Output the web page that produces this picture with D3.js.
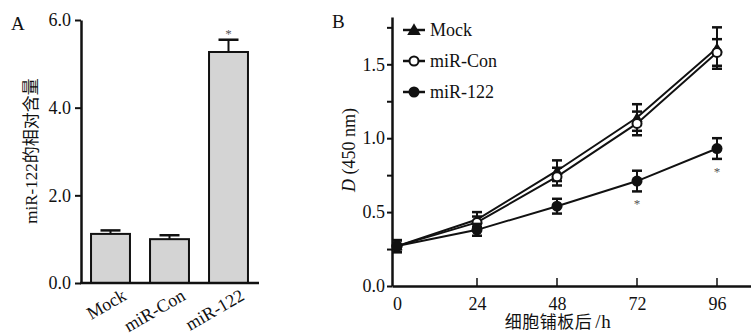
<!DOCTYPE html>
<html>
<head>
<meta charset="utf-8">
<script src="https://cdn.jsdelivr.net/npm/d3@7"></script>
<style>
  body { margin: 0; background: #fff; }
  svg text { font-family: "Liberation Serif", "Noto Sans CJK SC", serif; fill: #111; }
</style>
</head>
<body>
<div id="chart"></div>
<script>
// panel A data
const groupsA = ["Mock", "miR-Con", "miR-122"]
const meansA = [1.12, 1.0, 5.27]
const errsA = [0.08, 0.09, 0.28]
const ticksA = [0, 2, 4, 6]

// panel B data
const hours = [0, 24, 48, 72, 96]
const seriesNames = ["Mock", "miR-Con", "miR-122"]
const mockVals = [0.27, 0.45, 0.78, 1.14, 1.61]
const mockErr = [0.04, 0.05, 0.07, 0.09, 0.14]
const conVals = [0.27, 0.43, 0.74, 1.10, 1.58]
const conErr = [0.04, 0.04, 0.06, 0.08, 0.09]
const mirVals = [0.27, 0.38, 0.54, 0.71, 0.93]
const mirErr = [0.04, 0.04, 0.05, 0.07, 0.07]
const ticksB = [0, 0.5, 1.0, 1.5]

const W = 751, H = 335
const svg = d3.select("#chart").append("svg")
    .attr("width", W).attr("height", H)

// ---------- Panel A ----------
const xA = d3.scaleBand().domain(groupsA).range([81, 258])
    .paddingInner(0.34).paddingOuter(0.17)
const yA = d3.scaleLinear().domain([0, 6]).range([283, 20])

svg.append("text").attr("x", 11).attr("y", 30).attr("font-size", 19).text("A")

const gA = svg.append("g")

// bars
gA.selectAll(".bar").data(groupsA).enter().append("rect")
    .attr("class", "bar")
    .attr("x", d => xA(d))
    .attr("y", (d, i) => yA(meansA[i]))
    .attr("width", xA.bandwidth())
    .attr("height", (d, i) => yA(0) - yA(meansA[i]))
    .attr("fill", "#d4d4d4")
    .attr("stroke", "#111")
    .attr("stroke-width", 2)

// error bars (upper only)
groupsA.forEach((g, i) => {
    let cx = xA(g) + xA.bandwidth() / 2
    gA.append("line")
        .attr("x1", cx).attr("x2", cx)
        .attr("y1", yA(meansA[i])).attr("y2", yA(meansA[i] + errsA[i]))
        .attr("stroke", "#111").attr("stroke-width", 2)
    gA.append("line")
        .attr("x1", cx - 10).attr("x2", cx + 10)
        .attr("y1", yA(meansA[i] + errsA[i])).attr("y2", yA(meansA[i] + errsA[i]))
        .attr("stroke", "#111").attr("stroke-width", 2.5)
})

// star
gA.append("text")
    .attr("x", xA("miR-122") + xA.bandwidth() / 2)
    .attr("y", yA(meansA[2] + errsA[2]) - 2)
    .attr("text-anchor", "middle").attr("font-size", 13)
    .style("fill", "#555")
    .text("*")

// y axis
const yAxisA = d3.axisLeft(yA).tickValues(ticksA).tickFormat(d3.format(".1f"))
    .tickSize(6).tickSizeOuter(0)
const gyA = svg.append("g").attr("transform", "translate(81,0)").call(yAxisA)
gyA.select(".domain").attr("stroke-width", 2.5).attr("stroke", "#111")
gyA.selectAll(".tick line").attr("stroke-width", 2).attr("stroke", "#111")
gyA.selectAll(".tick text").attr("font-size", 18).attr("x", -10)
    .attr("font-family", "Liberation Serif")

// x axis line
svg.append("line").attr("x1", 80).attr("x2", 259)
    .attr("y1", yA(0)).attr("y2", yA(0))
    .attr("stroke", "#111").attr("stroke-width", 2.5)

// x labels, rotated
gA.selectAll(".xlab").data(groupsA).enter().append("text")
    .attr("class", "xlab")
    .attr("text-anchor", "end")
    .attr("font-size", 18)
    .attr("transform", d => "translate(" + (xA(d) + xA.bandwidth() / 2 + 17) + "," + 299 + ") rotate(-30)")
    .text(d => d)

// y label
svg.append("text")
    .attr("transform", "translate(37,151) rotate(-90)")
    .attr("text-anchor", "middle")
    .attr("font-size", 17)
    .text("miR-122的相对含量")

// ---------- Panel B ----------
const xB = d3.scaleLinear().domain([-1.5, 106.2]).range([392, 751])
const yB = d3.scaleLinear().domain([0, 1.82]).range([286, 17])

svg.append("text").attr("x", 332).attr("y", 28).attr("font-size", 19).text("B")

const yAxisB = d3.axisLeft(yB).tickValues(d3.range(0, 1.76, 0.25))
    .tickFormat(d => ticksB.includes(d) ? d3.format(".1f")(d) : "")
    .tickSize(5).tickSizeOuter(0)
const gyB = svg.append("g").attr("transform", "translate(392,0)").call(yAxisB)
gyB.select(".domain").attr("stroke-width", 2.5).attr("stroke", "#111")
gyB.selectAll(".tick line").attr("stroke-width", 2).attr("stroke", "#111")
gyB.selectAll(".tick text").attr("font-size", 18).attr("x", -7)
    .attr("font-family", "Liberation Serif")

const xAxisB = d3.axisBottom(xB).tickValues(hours).tickSize(0).tickPadding(11)
const gxB = svg.append("g").attr("transform", "translate(0," + yB(0) + ")").call(xAxisB)
gxB.select(".domain").attr("stroke-width", 2.5).attr("stroke", "#111")
gxB.selectAll(".tick text").attr("font-size", 18).attr("font-family", "Liberation Serif")

// inner ticks on x axis
hours.slice(1).forEach(h => {
    svg.append("line").attr("x1", xB(h)).attr("x2", xB(h))
        .attr("y1", yB(0)).attr("y2", yB(0) - 8)
        .attr("stroke", "#111").attr("stroke-width", 1.5)
})

const xlabB = svg.append("text")
    .attr("x", 558).attr("y", 328)
    .attr("text-anchor", "middle").attr("font-size", 17)
    .attr("letter-spacing", 0.5)
xlabB.append("tspan").text("细胞铺板后")
xlabB.append("tspan").attr("font-size", 19).attr("dx", 3).text("/h")

const ylabB = svg.append("text")
    .attr("transform", "translate(355,150) rotate(-90)")
    .attr("text-anchor", "middle").attr("font-size", 18)
ylabB.append("tspan").attr("font-style", "italic").text("D")
ylabB.append("tspan").text(" (450 nm)")

const series = [
    { name: seriesNames[0], vals: mockVals, errs: mockErr, shape: "tri" },
    { name: seriesNames[1], vals: conVals, errs: conErr, shape: "open" },
    { name: seriesNames[2], vals: mirVals, errs: mirErr, shape: "dot" }
]

const line = d3.line().x((d, i) => xB(hours[i])).y(d => yB(d))

function drawMarker(g, shape, x, y, big) {
    if (shape === "tri") {
        g.append("path")
            .attr("d", d3.symbol().type(d3.symbolTriangle).size(big ? 80 : 55)())
            .attr("transform", "translate(" + x + "," + (y + 1) + ")")
            .attr("fill", "#111")
    } else if (shape === "open") {
        g.append("circle").attr("cx", x).attr("cy", y).attr("r", 4.5)
            .attr("fill", "#fff").attr("stroke", "#111").attr("stroke-width", 2)
    } else {
        g.append("circle").attr("cx", x).attr("cy", y).attr("r", 5.5)
            .attr("fill", "#111")
    }
}

const gB = svg.append("g")
series.forEach(s => {
    gB.append("path").datum(s.vals)
        .attr("d", line)
        .attr("fill", "none").attr("stroke", "#111").attr("stroke-width", 2)
})
series.forEach(s => {
    s.vals.forEach((v, i) => {
        let cx = xB(hours[i])
        let top = yB(v + s.errs[i]), bot = yB(v - s.errs[i])
        gB.append("line").attr("x1", cx).attr("x2", cx).attr("y1", top).attr("y2", bot)
            .attr("stroke", "#111").attr("stroke-width", 2)
        ;[top, bot].forEach(yy => {
            gB.append("line").attr("x1", cx - 5).attr("x2", cx + 5).attr("y1", yy).attr("y2", yy)
                .attr("stroke", "#111").attr("stroke-width", 2.5)
        })
        drawMarker(gB, s.shape, cx, yB(v), false)
    })
})

// significance stars
;[3, 4].forEach(i => {
    svg.append("text").attr("x", xB(hours[i]))
        .attr("y", yB(mirVals[i] - mirErr[i]) + 17)
        .attr("text-anchor", "middle").attr("font-size", 13)
        .style("fill", "#555")
        .text("*")
})

// legend
const leg = svg.append("g")
series.forEach((s, i) => {
    let ly = 30 + i * 31
    leg.append("line").attr("x1", 403).attr("x2", 425).attr("y1", ly).attr("y2", ly)
        .attr("stroke", "#111").attr("stroke-width", 2.5)
    drawMarker(leg, s.shape, 414, ly, true)
    leg.append("text").attr("x", 430).attr("y", ly + 6).attr("font-size", 18).text(s.name)
})
</script>
</body>
</html>
